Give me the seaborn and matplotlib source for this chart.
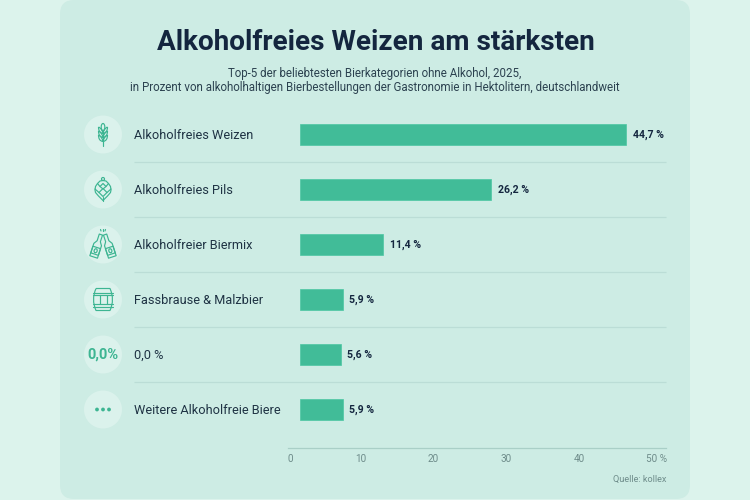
import numpy as np
import pandas as pd
import seaborn as sns
import matplotlib
matplotlib.use("Agg")
import matplotlib.pyplot as plt
from matplotlib.patches import FancyBboxPatch, Circle, Polygon, Ellipse, PathPatch
from matplotlib.path import Path
from matplotlib.transforms import ScaledTranslation

categories = ["Alkoholfreies Weizen", "Alkoholfreies Pils", "Alkoholfreier Biermix",
              "Fassbrause & Malzbier", "0,0 %", "Weitere Alkoholfreie Biere"]
values = [44.7, 26.2, 11.4, 5.9, 5.6, 5.9]
value_labels = ["44,7 %", "26,2 %", "11,4 %", "5,9 %", "5,6 %", "5,9 %"]
axis_ticks = [0, 10, 20, 30, 40, 50]
axis_labels = ["0", "10", "20", "30", "40", "50 %"]
title = "Alkoholfreies Weizen am stärksten"
subtitle = ["Top-5 der beliebtesten Bierkategorien ohne Alkohol, 2025,",
            "in Prozent von alkoholhaltigen Bierbestellungen der Gastronomie in Hektolitern, deutschlandweit"]
source = "Quelle: kollex"

sns.set_theme(style="white")
plt.rcParams["font.family"] = ["Roboto", "DejaVu Sans"]

GREEN = "#41BC98"
ICON = "#3DB592"
DARK = "#14263F"
TEXT = "#1F3344"
MUTED = "#6E8C8A"
W, H = 750, 500

fig = plt.figure(figsize=(7.5, 5), dpi=100, facecolor="#DCF3EC")

def px_axes(l, t, r, b, **kw):
    return fig.add_axes([l / W, 1 - b / H, (r - l) / W, (b - t) / H], **kw)

# canvas in pixel coordinates for the card and the decoration
bg = px_axes(0, 0, W, H)
bg.set_xlim(0, W); bg.set_ylim(H, 0); bg.axis("off")
bg.add_patch(FancyBboxPatch((60, 0), 630, 499, boxstyle="round,pad=0,rounding_size=14",
                            fc="#CDECE4", ec="none", lw=0))

bg.text(375.5, 43, title, ha="center", va="center", fontsize=20.1, fontweight="bold", color=DARK)
bg.text(375, 73, subtitle[0], ha="center", va="center", fontsize=8.3, color="#2C4250")
bg.text(375, 87, subtitle[1], ha="center", va="center", fontsize=8.3, color="#2C4250")
bg.text(666, 479, source, ha="right", va="center", fontsize=6.6, color=MUTED)

# bars: 300 px = 0, 7.3 px per unit
row_h = 55
top, n = 107, len(values)
ax = px_axes(300, top, 666, top + n * row_h, facecolor="none")
df = pd.DataFrame({"kategorie": categories, "wert": values})
sns.barplot(data=df, y="kategorie", x="wert", order=categories, color=GREEN,
            saturation=1, width=20.5 / 55, ax=ax, edgecolor="#4CC7A3", linewidth=0.5)
ax.set_xlim(0, 366 / 7.3)
ax.set_xlabel(""); ax.set_ylabel("")
ax.set_yticks([]); ax.set_xticks([])
sns.despine(ax=ax, left=True, bottom=True)
for i, (v, lab) in enumerate(zip(values, value_labels)):
    ax.annotate(lab, (v, i), xytext=(4.6, -0.6), textcoords="offset points", va="center", ha="left",
                fontsize=7.6, fontweight="bold", color=DARK)

# lower scale
ax2 = px_axes(288, 447, 666, 448, facecolor="none")
ax2.set_xlim((288 - 287) / 7.3, (666 - 287) / 7.3)
ax2.set_yticks([])
ax2.set_xticks(axis_ticks)
ax2.set_xticklabels(axis_labels)
ax2.tick_params(axis="x", length=0, pad=4.6, labelsize=7.2, labelcolor=MUTED)
for s in ["top", "left", "right"]:
    ax2.spines[s].set_visible(False)
ax2.spines["bottom"].set_color("#A9CFC7")
ax2.spines["bottom"].set_linewidth(0.9)
off = lambda d: ScaledTranslation(d / 100, 0, fig.dpi_scale_trans)
lbls = ax2.get_xticklabels()
lbls[0].set_transform(lbls[0].get_transform() + off(2))
lbls[-1].set_transform(lbls[-1].get_transform() + off(4))

# rows: label, divider, icon disc
cy = [top + row_h * (i + 0.5) for i in range(n)]
for i, (y, c) in enumerate(zip(cy, categories)):
    bg.text(134, y + 0.8, c, ha="left", va="center", fontsize=9.2, color=TEXT)
    bg.add_patch(Circle((103, y), 19, fc="#DBF2EC", ec="none"))
    if i < n - 1:
        bg.plot([134, 666], [y + row_h / 2 - 0.5] * 2, color="#BBDDD6", lw=0.9, solid_capstyle="butt")

lw = 0.85
def L(xs, ys, **k):
    bg.plot(xs, ys, color=ICON, lw=k.pop("lw", lw), solid_capstyle="round", solid_joinstyle="round", **k)

def curve(verts, closed=False):
    codes = [Path.MOVETO] + [Path.CURVE3] * (len(verts) - 1)
    bg.add_patch(PathPatch(Path(verts, codes), fc="none", ec=ICON, lw=lw))

# wheat: stem, top grain, chevron grains
y = cy[0]
L([103, 103], [y - 3, y + 11.5])
bg.add_patch(Ellipse((103, y - 7.5), 3.6, 7, fc="none", ec=ICON, lw=lw))
for d in [-4, 0, 4]:
    for s in (-1, 1):
        curve([(103, y + d + 3), (103 + s * 1, y + d - 2), (103 + s * 4.5, y + d - 3.5)])
        curve([(103, y + d + 3), (103 + s * 4.5, y + d + 2.5), (103 + s * 4.5, y + d - 3.5)])

# hop: loop, cone with scales
y = cy[1]
bg.add_patch(Circle((103, y - 10.5), 1.5, fc="none", ec=ICON, lw=lw))
cone = [(103, y - 9), (106, y - 8.5), (108.5, y - 6), (110.5, y - 3), (111, y + 0.5), (110.5, y + 3),
        (107.5, y + 6.5), (105, y + 9), (103, y + 11), (101, y + 9), (98.5, y + 6.5), (95.5, y + 3),
        (95, y + 0.5), (95.5, y - 3), (97.5, y - 6), (100, y - 8.5)]
bg.add_patch(Polygon(cone, closed=True, fc="none", ec=ICON, lw=lw, joinstyle="round"))
L([97.5, 100, 103, 106, 108.5], [y - 6, y - 3, y - 6, y - 3, y - 6])
L([95, 99, 103, 107, 111], [y - 0.5, y + 3, y - 1, y + 3, y - 0.5])
L([100, 103, 106], [y - 3, y - 0.5, y - 3])
L([99, 103, 107], [y + 3, y + 7, y + 3])
L([103, 103], [y + 7, y + 11])

# two clinking bottles
y = cy[2]
for cx, ang in ((97.2, 18), (108.8, -18)):
    t = np.radians(ang)
    R = np.array([[np.cos(t), -np.sin(t)], [np.sin(t), np.cos(t)]])
    outline = np.array([[-1.7, -12], [1.7, -12], [1.7, -5], [4, -1.5], [4, 11.5], [-4, 11.5], [-4, -1.5], [-1.7, -5]])
    bg.add_patch(Polygon(outline @ R.T + [cx, y + 1.5], closed=True, fc="none", ec=ICON, lw=lw, joinstyle="round"))
    band = np.array([[-4, 1.5], [4, 1.5], [4, 8.5], [-4, 8.5]]) @ R.T + [cx, y + 1.5]
    bg.add_patch(Polygon(band, closed=True, fc="none", ec=ICON, lw=lw))
    centre = np.array([[0, 5]]) @ R.T + [cx, y + 1.5]
    bg.add_patch(Ellipse(centre[0], 3, 4, angle=ang, fc="none", ec=ICON, lw=lw))
L([100.5, 101], [y - 15, y - 13.5]); L([103, 103], [y - 16, y - 14]); L([105.5, 105], [y - 15, y - 13.5])

# barrel
y = cy[3]
barrel = [(96, y - 11), (110, y - 11), (115, y), (110, y + 11), (96, y + 11), (91, y), (96, y - 11)]
codes = [Path.MOVETO, Path.LINETO, Path.CURVE3, Path.CURVE3, Path.LINETO, Path.CURVE3, Path.CURVE3]
bg.add_patch(PathPatch(Path(barrel, codes), fc="none", ec=ICON, lw=lw))
L([93, 113], [y - 7, y - 7]); L([93, 113], [y - 4.5, y - 4.5])
L([93, 113], [y + 7, y + 7]); L([93, 113], [y + 4.5, y + 4.5])
L([99.5, 99.5], [y - 4.5, y + 4.5]); L([106.5, 106.5], [y - 4.5, y + 4.5])

# 0,0 %
bg.text(103, cy[4] + 0.5, "0,0%", ha="center", va="center", fontsize=10.5, fontweight="bold", color=ICON)

# dots
for dx in (-6, 0, 6):
    bg.add_patch(Circle((103 + dx, cy[5]), 1.9, fc=ICON, ec="none"))

ax.set_zorder(3); ax2.set_zorder(3)
fig.savefig("out.png", dpi=100, facecolor=fig.get_facecolor())
